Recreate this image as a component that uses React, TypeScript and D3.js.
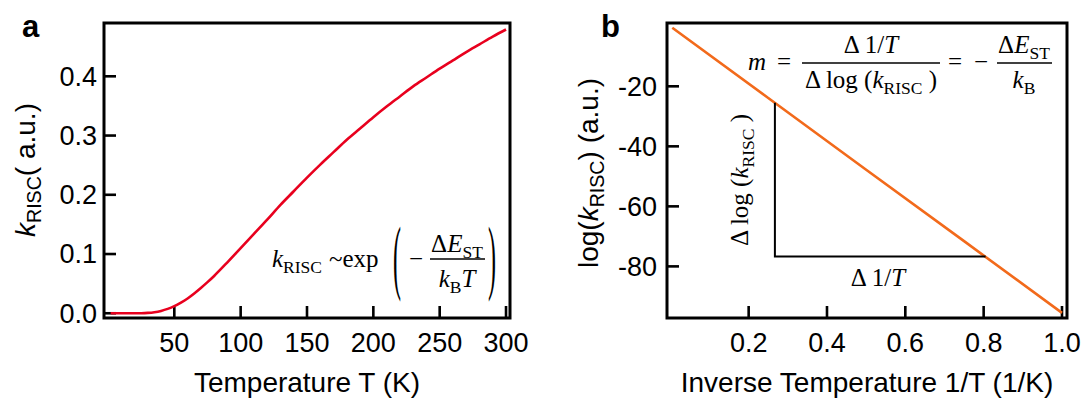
import React, { useEffect, useRef } from 'react';
import * as d3 from 'd3';

// panel a: k_RISC vs temperature
const tempK = [2, 10, 20, 25, 30, 35, 40, 45, 50, 55, 60, 65, 70, 75, 80, 90, 100, 110, 120, 130, 140, 150,
  160, 170, 180, 190, 200, 210, 220, 230, 240, 250, 260, 270, 280, 290, 300];
const kRisc = [0, 0, 0, 0.0001, 0.0006, 0.0018, 0.004, 0.0074, 0.012, 0.018, 0.025, 0.0334, 0.0426, 0.0525,
  0.063, 0.086, 0.11, 0.134, 0.158, 0.183, 0.206, 0.229, 0.251, 0.272, 0.293, 0.312, 0.331, 0.349, 0.366,
  0.383, 0.398, 0.413, 0.427, 0.441, 0.454, 0.467, 0.479];

// panel b: log(k_RISC) vs 1/T
const invT = [0.005, 0.25, 0.5, 0.75, 1.0];
const logK = [-0.5, -23.9, -47.8, -71.6, -95.5];

// slope triangle corners
const triX = [0.267, 0.267, 0.805];
const triY = [-25.5, -76.7, -76.7];

const xTicksA = [50, 100, 150, 200, 250, 300];
const yTicksA = [0, 0.1, 0.2, 0.3, 0.4];
const xTicksB = [0.2, 0.4, 0.6, 0.8, 1.0];
const yTicksB = [-80, -60, -40, -20];

const SANS = '"Liberation Sans", Arial, sans-serif';
const SERIF = '"Liberation Serif", "Times New Roman", serif';
const TICK = 27;
const TITLE = 28;
const MATH = 25;

type Part = { t: string; it?: boolean; sub?: boolean };

function rich(sel: any, x: number, y: number, parts: Part[], size: number, family: string, anchor = 'start') {
  const text = sel.append('text')
    .attr('x', x).attr('y', y)
    .attr('font-size', size)
    .attr('font-family', family)
    .attr('text-anchor', anchor)
    .attr('fill', '#000')
    .style('white-space', 'pre');
  let shift = 0;
  parts.forEach(p => {
    const target = p.sub ? Math.round(size * 0.22) : 0;
    text.append('tspan')
      .attr('dy', target - shift)
      .attr('font-size', p.sub ? size * 0.7 : size)
      .attr('font-style', p.it ? 'italic' : 'normal')
      .text(p.t);
    shift = target;
  });
  return text;
}

function frame(svg: any, x: any, y: any, xTicks: number[], yTicks: number[], fmtX: (d: number) => string, fmtY: (d: number) => string, gap: number) {
  const [x0, x1] = x.range();
  const [y0, y1] = y.range();
  const g = svg.append('g');
  g.append('rect')
    .attr('x', x0).attr('y', y1)
    .attr('width', x1 - x0).attr('height', y0 - y1)
    .attr('fill', 'none').attr('stroke', '#000').attr('stroke-width', 3);

  xTicks.forEach(t => {
    g.append('line')
      .attr('x1', x(t)).attr('x2', x(t))
      .attr('y1', y0).attr('y2', y0 - 12)
      .attr('stroke', '#000').attr('stroke-width', 2.6);
    g.append('text')
      .attr('x', x(t)).attr('y', y0 + 34)
      .attr('text-anchor', 'middle')
      .attr('font-family', SANS).attr('font-size', TICK)
      .text(fmtX(t));
  });
  yTicks.forEach(t => {
    g.append('line')
      .attr('x1', x0).attr('x2', x0 + 12)
      .attr('y1', y(t)).attr('y2', y(t))
      .attr('stroke', '#000').attr('stroke-width', 2.6);
    g.append('text')
      .attr('x', x0 - gap).attr('y', y(t))
      .attr('dy', '0.35em')
      .attr('text-anchor', 'end')
      .attr('font-family', SANS).attr('font-size', TICK)
      .text(fmtY(t));
  });
}

const App = () => {
  const svgRef = useRef<SVGSVGElement>(null);

  useEffect(() => {
    const svg = d3.select(svgRef.current);
    svg.selectAll('*').remove();

    // ---------- panel a ----------
    const xa = d3.scaleLinear().domain([-3, 303]).range([104, 510]);
    const ya = d3.scaleLinear().domain([-0.008, 0.49]).range([318, 23]);
    frame(svg, xa, ya, xTicksA, yTicksA, d => String(d), d => d3.format('.1f')(d), 7);

    const lineA = d3.line<number>()
      .x((_, i) => xa(tempK[i]))
      .y(d => ya(d))
      .curve(d3.curveMonotoneX);
    svg.append('path')
      .datum(kRisc)
      .attr('fill', 'none')
      .attr('stroke', '#e8001e')
      .attr('stroke-width', 2.6)
      .attr('d', lineA);

    svg.append('text')
      .attr('x', 22).attr('y', 37)
      .attr('font-family', SANS).attr('font-size', 31).attr('font-weight', 'bold')
      .text('a');

    rich(svg, 307, 392, [{ t: 'Temperature T (K)' }], TITLE, SANS, 'middle');
    rich(svg.append('g').attr('transform', 'translate(35,170) rotate(-90)'), 0, 0,
      [{ t: 'k', it: true }, { t: 'RISC', sub: true }, { t: '( a.u.)' }], TITLE, SANS, 'middle');

    // formula k_RISC ~ exp(-dE/kT)
    rich(svg, 272, 267, [{ t: 'k', it: true }, { t: 'RISC', sub: true }], MATH, SERIF);
    rich(svg, 329, 267, [{ t: '~exp' }], MATH, SERIF);
    svg.append('text').attr('transform', 'translate(397,284) scale(1,3.4)')
      .attr('text-anchor', 'middle').attr('font-family', SERIF).attr('font-size', 24).text('(');
    svg.append('text').attr('transform', 'translate(492,284) scale(1,3.4)')
      .attr('text-anchor', 'middle').attr('font-family', SERIF).attr('font-size', 24).text(')');
    rich(svg, 416, 267, [{ t: '−' }], MATH, SERIF, 'middle');
    svg.append('line').attr('x1', 430).attr('x2', 485).attr('y1', 259).attr('y2', 259)
      .attr('stroke', '#000').attr('stroke-width', 1.5);
    rich(svg, 457, 252, [{ t: 'Δ' }, { t: 'E', it: true }, { t: 'ST', sub: true }], MATH, SERIF, 'middle');
    rich(svg, 457, 287, [{ t: 'k', it: true }, { t: 'B', sub: true }, { t: 'T', it: true }], MATH, SERIF, 'middle');

    // ---------- panel b ----------
    const xb = d3.scaleLinear().domain([-0.0085, 1.0128]).range([667, 1067]);
    const yb = d3.scaleLinear().domain([-97.2, 1.1]).range([318, 23]);
    frame(svg, xb, yb, xTicksB, yTicksB, d => d3.format('.1f')(d), d => String(d), 10);

    const lineB = d3.line<number>()
      .x((_, i) => xb(invT[i]))
      .y(d => yb(d));
    svg.append('path')
      .datum(logK)
      .attr('fill', 'none')
      .attr('stroke', '#f26a1b')
      .attr('stroke-width', 2.6)
      .attr('d', lineB);

    const lineT = d3.line<number>()
      .x((_, i) => xb(triX[i]))
      .y(d => yb(d));
    svg.append('path')
      .datum(triY)
      .attr('fill', 'none')
      .attr('stroke', '#000')
      .attr('stroke-width', 2)
      .attr('d', lineT);

    svg.append('text')
      .attr('x', 601).attr('y', 37)
      .attr('font-family', SANS).attr('font-size', 31).attr('font-weight', 'bold')
      .text('b');

    rich(svg, 867, 392, [{ t: 'Inverse Temperature 1/T (1/K)' }], TITLE, SANS, 'middle');
    rich(svg.append('g').attr('transform', 'translate(598,173) rotate(-90)'), 0, 0,
      [{ t: 'log(' }, { t: 'k', it: true }, { t: 'RISC', sub: true }, { t: ') (a.u.)' }], TITLE, SANS, 'middle');

    // triangle labels
    rich(svg, 878, 286, [{ t: 'Δ 1/' }, { t: 'T', it: true }], MATH, SERIF, 'middle');
    rich(svg.append('g').attr('transform', 'translate(748,180) rotate(-90)'), 0, 0,
      [{ t: 'Δ log (' }, { t: 'k', it: true }, { t: 'RISC', sub: true }, { t: ' )' }], MATH, SERIF, 'middle');

    // slope formula
    rich(svg, 748, 70, [{ t: 'm', it: true }], MATH, SERIF);
    rich(svg, 784, 70, [{ t: '=' }], MATH, SERIF, 'middle');
    svg.append('line').attr('x1', 802).attr('x2', 940).attr('y1', 63).attr('y2', 63)
      .attr('stroke', '#000').attr('stroke-width', 1.5);
    rich(svg, 871, 53, [{ t: 'Δ 1/' }, { t: 'T', it: true }], MATH, SERIF, 'middle');
    rich(svg, 871, 88, [{ t: 'Δ log (' }, { t: 'k', it: true }, { t: 'RISC', sub: true }, { t: ' )' }], MATH, SERIF, 'middle');
    rich(svg, 955, 70, [{ t: '=' }], MATH, SERIF, 'middle');
    rich(svg, 981, 70, [{ t: '−' }], MATH, SERIF, 'middle');
    svg.append('line').attr('x1', 997).attr('x2', 1052).attr('y1', 63).attr('y2', 63)
      .attr('stroke', '#000').attr('stroke-width', 1.5);
    rich(svg, 1024, 53, [{ t: 'Δ' }, { t: 'E', it: true }, { t: 'ST', sub: true }], MATH, SERIF, 'middle');
    rich(svg, 1024, 88, [{ t: 'k', it: true }, { t: 'B', sub: true }], MATH, SERIF, 'middle');
  }, []);

  return (
    <svg
      ref={svgRef}
      width={1090}
      height={399}
      style={{ position: 'absolute', left: 0, top: 0, background: '#fff' }}
    />
  );
};

export default App;
